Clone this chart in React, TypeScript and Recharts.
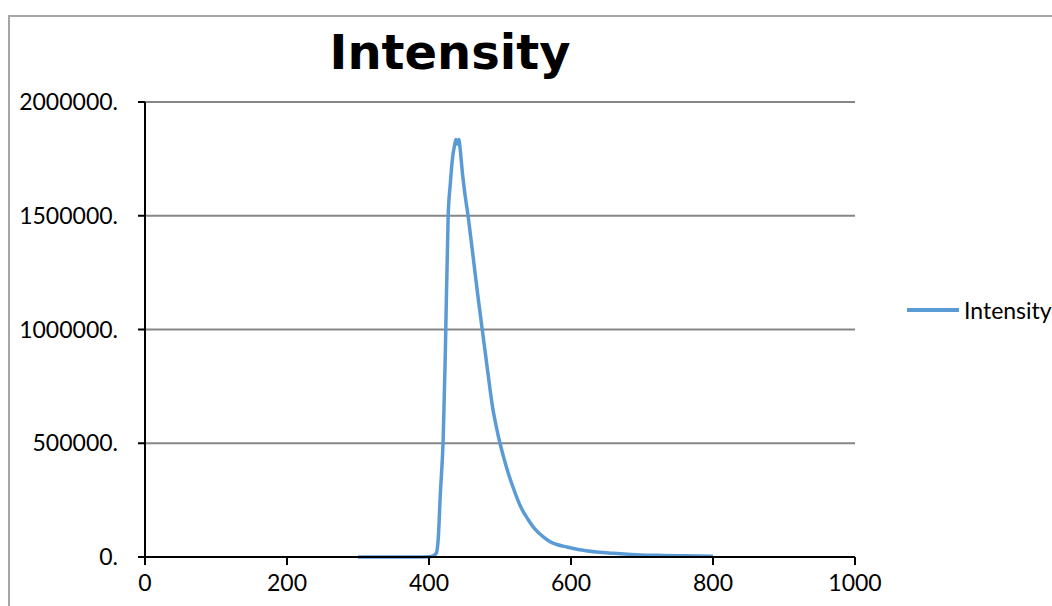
import React from "react";
import { LineChart, Line, XAxis, YAxis, CartesianGrid } from "recharts";

const wavelengths = [
  300, 320, 340, 360, 380, 400, 405, 410, 413, 416, 420, 423, 427, 430, 433, 436, 438,
  440, 442, 444, 447, 450, 455, 460, 466, 470, 475, 480, 485, 490, 495, 500, 505, 510,
  518, 530, 540, 550, 561, 570, 580, 594, 610, 636, 660, 680, 697, 730, 760, 800,
];
const intensities = [
  0, 0, 0, 0, 0, 1500, 4000, 15000, 80000, 280000, 520000, 900000, 1500000, 1640000,
  1750000, 1810000, 1835000, 1815000, 1835000, 1790000, 1690000, 1610000, 1500000,
  1375000, 1220000, 1120000, 1000000, 880000, 760000, 650000, 570000, 500000, 440000,
  385000, 310000, 215000, 163000, 120000, 88000, 68000, 55000, 44000, 33000, 22000,
  16000, 12000, 9000, 7000, 5500, 3500,
];
const xTicks = [0, 200, 400, 600, 800, 1000];
const yTicks = [0, 500000, 1000000, 1500000, 2000000];
const seriesName = "Intensity";

const data = wavelengths.map((w, i) => ({ x: w, y: intensities[i] }));

const LABEL_FONT = "Lato, 'Open Sans', sans-serif";
const BLUE = "#5B9BD5";

export default function App() {
  return (
    <div style={{ position: "fixed", left: 0, top: 0, width: 1052, height: 606, overflow: "hidden", background: "#fff" }}>
      <div
        style={{
          position: "absolute", left: 8, top: 15, width: 1200, height: 800,
          border: "2px solid #a6a6a6", boxSizing: "border-box",
        }}
      />
      <div
        style={{
          position: "absolute", left: 250, top: 22, width: 400, textAlign: "center",
          fontFamily: "'DejaVu Sans', Verdana, sans-serif", fontWeight: "bold", fontSize: 48,
          lineHeight: "60px", color: "#000",
        }}
      >
        {seriesName}
      </div>
      <div style={{ position: "absolute", left: 0, top: 0 }}>
        <LineChart width={1052} height={606} data={data} margin={{ top: 102, right: 197, bottom: 0, left: 0 }}>
          <CartesianGrid horizontal vertical={false} stroke="#868686" strokeWidth={2} />
          <XAxis
            dataKey="x"
            type="number"
            domain={[0, 1000]}
            ticks={xTicks}
            height={49}
            stroke="#000"
            strokeWidth={2}
            tickSize={8}
            tickMargin={10}
            tick={{ fontSize: 23, fill: "#000", fontFamily: LABEL_FONT }}
            interval={0}
          />
          <YAxis
            type="number"
            domain={[0, 2000000]}
            ticks={yTicks}
            width={145}
            stroke="#000"
            strokeWidth={2}
            tickSize={7}
            tickMargin={20}
            tickFormatter={(v: number) => `${v}.`}
            tick={{ fontSize: 23, fill: "#000", fontFamily: LABEL_FONT }}
            interval={0}
          />
          <Line
            type="monotone"
            dataKey="y"
            name={seriesName}
            stroke={BLUE}
            strokeWidth={3.5}
            dot={false}
            isAnimationActive={false}
          />
        </LineChart>
      </div>
      <div style={{ position: "absolute", left: 907, top: 295, display: "flex", alignItems: "center", whiteSpace: "nowrap" }}>
        <svg width={52} height={30}>
          <line x1={0} y1={15} x2={52} y2={15} stroke={BLUE} strokeWidth={4} />
        </svg>
        <span style={{ marginLeft: 5, fontFamily: LABEL_FONT, fontSize: 23, color: "#000", lineHeight: "30px" }}>
          {seriesName}
        </span>
      </div>
    </div>
  );
}
